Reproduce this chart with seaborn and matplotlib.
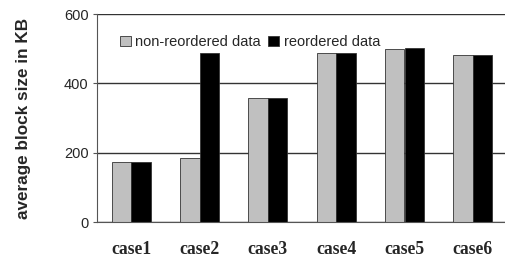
import pandas as pd
import matplotlib
matplotlib.use("Agg")
import matplotlib.pyplot as plt
import seaborn as sns

cases = ["case1", "case2", "case3", "case4", "case5", "case6"]
non_reordered = [174, 184, 357, 488, 499, 482]
reordered = [174, 488, 357, 488, 501, 482]
series = ["non-reordered data", "reordered data"]
yticks = [0, 200, 400, 600]

df = pd.DataFrame({
    "case": cases * 2,
    "size": non_reordered + reordered,
    "kind": [series[0]] * len(cases) + [series[1]] * len(cases),
})

sns.set_style("white")
fig = plt.figure(figsize=(5.05, 2.66), dpi=100)
ax = fig.add_axes([97 / 505, (266 - 222) / 266, 410 / 505, 208 / 266])

sns.barplot(data=df, x="case", y="size", hue="kind", ax=ax,
            palette=["#c0c0c0", "#000000"], width=0.567,
            edgecolor="#333333", linewidth=0.6, saturation=1)

ax.set_ylim(0, 600)
ax.set_xlim(-0.5, 5.5)
ax.set_yticks(yticks)
ax.yaxis.grid(True, color="#333333", linewidth=1)
ax.set_axisbelow(True)
ax.set_yticklabels([str(t) for t in yticks], fontsize=10.5, family="Liberation Sans")

ax.set_xticks(range(len(cases)))
ax.set_xticklabels(cases, fontsize=12.7, family="Liberation Serif", fontweight="bold")
ax.set_xticks([i - 0.5 for i in range(len(cases) + 1)], minor=True)
ax.tick_params(axis="x", which="major", length=0, pad=14)
ax.tick_params(axis="x", which="minor", length=5, color="#555555", direction="out")
ax.tick_params(axis="y", length=3, color="#555555", direction="out", left=True, pad=3)

ax.set_xlabel("")
ax.set_ylabel("average block size in KB", fontsize=12.3, fontweight="bold",
              family="Liberation Sans", labelpad=24)

for side in ["top", "right"]:
    ax.spines[side].set_visible(False)
ax.spines["left"].set_color("#555555")
ax.spines["bottom"].set_color("#555555")

ax.legend(loc="center left", bbox_to_anchor=(0.056, 0.865), frameon=False, ncol=2,
          handlelength=0.75, handleheight=0.75, handletextpad=0.3, columnspacing=0.5,
          borderpad=0, borderaxespad=0, prop={"family": "Liberation Sans", "size": 10.5})

fig.savefig("out.png", dpi=100)
